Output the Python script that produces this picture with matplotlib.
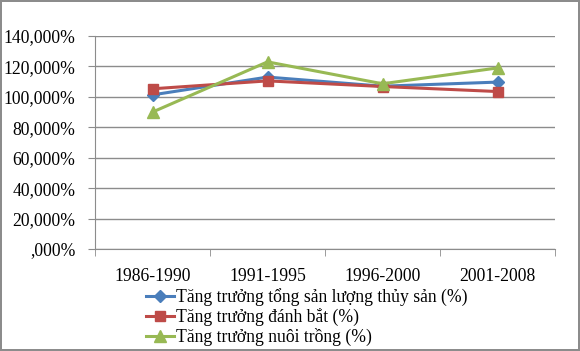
import matplotlib.pyplot as plt

plt.rcParams['font.family'] = ['Liberation Serif', 'DejaVu Serif']

# Data
periods = ["1986-1990", "1991-1995", "1996-2000", "2001-2008"]
tong_san_luong = [101.3, 113.0, 107.0, 109.7]
danh_bat = [105.3, 110.5, 106.8, 103.5]
nuoi_trong = [90.0, 123.0, 108.6, 119.0]

y_ticks = [0, 20, 40, 60, 80, 100, 120, 140]
y_labels = [",000%", "20,000%", "40,000%", "60,000%", "80,000%",
            "100,000%", "120,000%", "140,000%"]

fig = plt.figure(figsize=(5.8, 3.51), dpi=100)
fig.patch.set_edgecolor("#8c8c8c")
fig.patch.set_linewidth(1.5)
ax = fig.add_axes([95 / 580, 1 - 249 / 351, 460 / 580, 213 / 351])

x = range(len(periods))
ax.plot(x, tong_san_luong, color="#4a7ebb", marker="D", markersize=6,
        linewidth=2.2, label="Tăng trưởng tổng sản lượng thủy sản (%)")
ax.plot(x, danh_bat, color="#be4b48", marker="s", markersize=7.5,
        linewidth=2.2, label="Tăng trưởng đánh bắt (%)")
ax.plot(x, nuoi_trong, color="#98b954", marker="^", markersize=8.5,
        linewidth=2.2, label="Tăng trưởng nuôi trồng (%)")

ax.set_xlim(-0.5, len(periods) - 0.5)
ax.set_ylim(0, 140)
ax.set_yticks(y_ticks)
ax.set_yticklabels(y_labels, fontsize=12.7)
ax.set_xticks(list(x))
ax.set_xticklabels(periods, fontsize=12.7)
ax.set_xticks([i - 0.5 for i in range(len(periods) + 1)], minor=True)
ax.tick_params(axis="x", which="major", length=0, pad=14)
ax.tick_params(axis="x", which="minor", length=5, color="#8c8c8c")
ax.tick_params(axis="y", length=5, color="#8c8c8c", pad=9)
ax.grid(axis="y", color="#8c8c8c", linewidth=1)
ax.set_axisbelow(True)
for side in ["top", "right"]:
    ax.spines[side].set_visible(False)
ax.spines["left"].set_color("#8c8c8c")
ax.spines["bottom"].set_color("#8c8c8c")

fig.legend(loc="upper left", bbox_to_anchor=(146 / 580, 1 - 288 / 351),
           frameon=False, fontsize=12.7, handlelength=1.6, handletextpad=0.1,
           labelspacing=0.12, borderpad=0, borderaxespad=0)

fig.savefig("out.png", dpi=100)
